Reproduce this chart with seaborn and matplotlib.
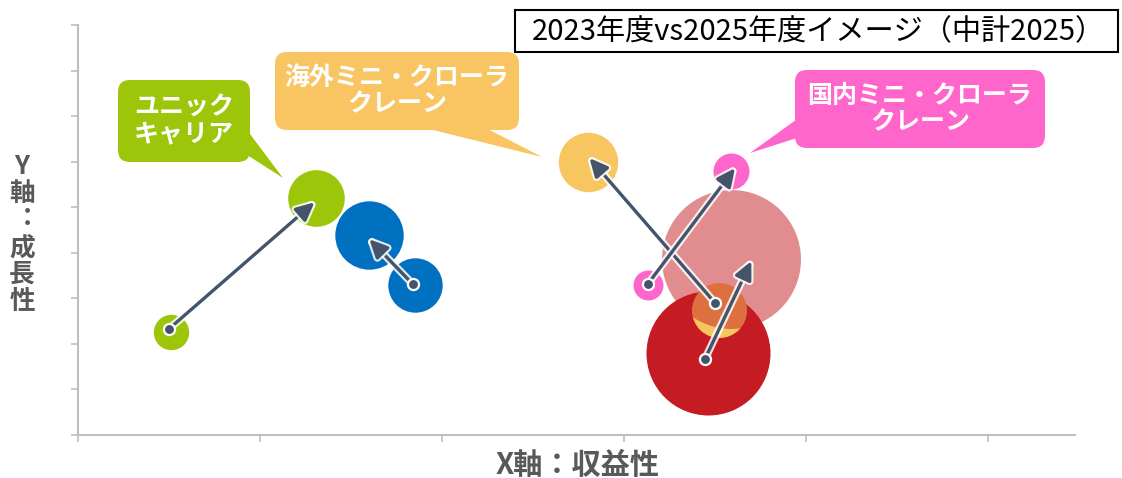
import matplotlib
matplotlib.use("Agg")
import matplotlib.pyplot as plt
import matplotlib.patheffects as pe
from matplotlib.patches import FancyBboxPatch, Polygon, Rectangle
import pandas as pd
import seaborn as sns

# --- data ---
series = ["ユニックキャリア", "製品B", "海外ミニ・クローラクレーン", "国内ミニ・クローラクレーン", "製品E"]
colors = ["#9DC60A", "#0070C0", "#F8C660", "#FF66CC", "#C41C22"]

x_2023 = [0.51, 1.85, 3.52, 3.13, 3.46]
y_2023 = [2.27, 3.29, 2.74, 3.29, 1.79]
size_2023 = [17.7, 27.2, 27.5, 15.0, 62.0]

x_2025 = [1.31, 1.60, 2.80, 3.59, 3.59]
y_2025 = [5.20, 4.39, 6.00, 5.79, 3.86]
size_2025 = [28.3, 34.2, 29.7, 18.0, 69.5]
alpha_2025 = [1.0, 1.0, 1.0, 1.0, 0.5]

# arrows (tail -> head) as drawn on the slide
arrow_x0 = [0.50, 1.84, 3.50, 3.13, 3.445]
arrow_y0 = [2.33, 3.31, 2.90, 3.31, 1.67]
arrow_x1 = [1.30, 1.60, 2.81, 3.61, 3.70]
arrow_y1 = [5.11, 4.30, 6.08, 5.86, 3.82]

callout_texts = ["ユニック\nキャリア", "海外ミニ・クローラ\nクレーン", "国内ミニ・クローラ\nクレーン"]
callout_colors = ["#9DC60A", "#F8C562", "#FF66CC"]
title_text = "2023年度vs2025年度イメージ（中計2025）"
x_label = "X軸：収益性"
y_label = "Y\n軸\n︓\n成\n長\n性"

ARROW = "#44546A"
AXIS = "#BFBFBF"
LABEL = "#595959"

sns.set_theme(style="white")
plt.rcParams["font.family"] = ["Noto Sans CJK JP", "DejaVu Sans"]

W, H = 1122, 478
fig = plt.figure(figsize=(W / 100, H / 100), dpi=100)
ax = fig.add_axes([78 / W, 1 - 435 / H, (1075 - 78) / W, (435 - 25) / H])
ax.set_xlim(0, 997 / 182)
ax.set_ylim(0, 9)
ax.set_xticks(range(6))
ax.set_yticks(range(10))
ax.set_xticklabels([])
ax.set_yticklabels([])
ax.tick_params(axis="both", direction="out", length=5, width=1.2, color=AXIS, bottom=True, left=True)
for side in ["top", "right"]:
    ax.spines[side].set_visible(False)
for side in ["left", "bottom"]:
    ax.spines[side].set_color(AXIS)
    ax.spines[side].set_linewidth(1.5)


def area(r):
    # radius in px -> scatter area in pt^2
    return (2 * r * 72 / 100) ** 2


pts = pd.DataFrame({
    "series": series * 2,
    "year": [2023] * 5 + [2025] * 5,
    "x": x_2023 + x_2025,
    "y": y_2023 + y_2025,
    "r": size_2023 + size_2025,
    "alpha": [1.0] * 5 + alpha_2025,
    "color": colors * 2,
})

# layering: big red 2023 first, then overseas 2023, then the translucent red 2025
order = [4, 2, 9, 0, 5, 1, 6, 7, 3, 8]
for i in order:
    row = pts.iloc[i]
    sns.scatterplot(x=[row.x], y=[row.y], s=area(row.r), color=row.color,
                    alpha=row.alpha, linewidth=0, ax=ax, zorder=2, clip_on=False)

glow = [pe.Stroke(linewidth=5.5, foreground="white", alpha=0.85), pe.Normal()]
for x0, y0, x1, y1 in zip(arrow_x0, arrow_y0, arrow_x1, arrow_y1):
    ax.annotate("", xy=(x1, y1), xytext=(x0, y0), zorder=5,
                arrowprops=dict(arrowstyle="-|>,head_length=11,head_width=5.2",
                                mutation_scale=1, color=ARROW, lw=2.4,
                                shrinkA=0, shrinkB=0, path_effects=glow))
    ax.plot([x0], [y0], "o", ms=8, color=ARROW, mec="white", mew=1.6, zorder=6)

ax.set_xlabel(x_label, fontsize=21, fontweight="bold", color=LABEL, va="center")
ax.xaxis.set_label_coords((578 - 78) / 997, -(465 - 435) / 410)
ax.set_ylabel(y_label, fontsize=18.5, fontweight="bold", color=LABEL, rotation=0,
              linespacing=1.0, va="center", ha="center")
ax.yaxis.set_label_coords(-(78 - 22) / 997, (435 - 234) / 410)

# overlay in pixel coordinates for the callouts and the title box
ov = fig.add_axes([0, 0, 1, 1], facecolor="none")
ov.set_xlim(0, W)
ov.set_ylim(H, 0)
ov.axis("off")

boxes = [(118, 80, 250, 162), (275, 52, 519, 130), (795, 70, 1045, 148)]
tails = [
    [(244, 126), (244, 153), (283, 178)],
    [(417, 126), (482, 126), (542, 157)],
    [(800, 117), (800, 137), (750, 153)],
]
for (x0, y0, x1, y1), tail, txt, c in zip(boxes, tails, callout_texts, callout_colors):
    ov.add_patch(FancyBboxPatch((x0, y0), x1 - x0, y1 - y0,
                                boxstyle="round,pad=0,rounding_size=12",
                                fc=c, ec="none"))
    ov.add_patch(Polygon(tail, closed=True, fc=c, ec="none"))
    ov.text((x0 + x1) / 2, (y0 + y1) / 2, txt, ha="center", va="center",
            color="white", fontsize=18, fontweight="bold", linespacing=1.15)

ov.add_patch(Rectangle((515, 10), 1118 - 515, 52 - 10, fc="white", ec="black", lw=1.5))
ov.text(818, 32, title_text, ha="center", va="center", fontsize=21, color="black")

fig.savefig("out.png", dpi=100)
